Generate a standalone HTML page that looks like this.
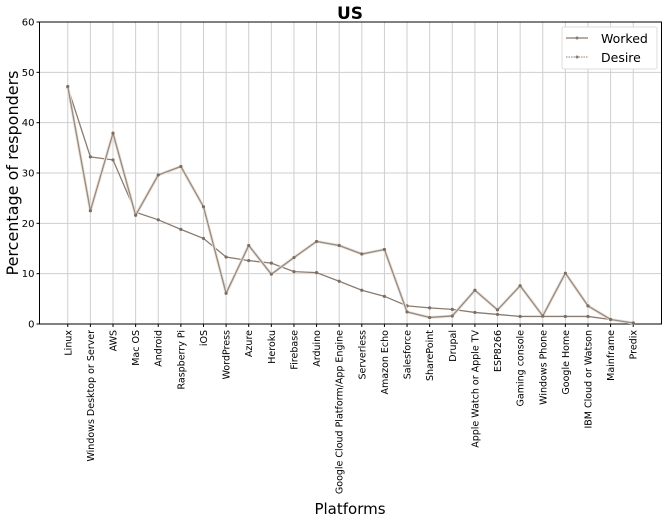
<!DOCTYPE html>
<html><head><meta charset="utf-8"><style>
body{margin:0;background:#fff;width:668px;height:520px;overflow:hidden}
svg text{font-family:"DejaVu Sans","Liberation Sans",sans-serif}
</style></head><body>
<svg id="chart" width="668" height="520" xmlns="http://www.w3.org/2000/svg">
<g id="grid"></g><g id="axes"></g><g id="series"></g>
<text x="350" y="19" text-anchor="middle" font-size="17" font-weight="bold">US</text>
<text x="350" y="514" text-anchor="middle" font-size="15">Platforms</text>
<text transform="translate(18,173) rotate(-90)" text-anchor="middle" font-size="16">Percentage of responders</text>
<g>
<rect x="562" y="27" width="95" height="42" fill="#fff" stroke="#ddd" rx="2"/>
<line x1="566" y1="38" x2="588" y2="38" stroke="#8b7b6f" stroke-width="1.2"/><circle cx="577" cy="38" r="1.5" fill="#8b7b6f"/>
<text x="601" y="43" font-size="12.5">Worked</text>
<line x1="566" y1="57" x2="588" y2="57" stroke="#a8998e" stroke-width="1.2" stroke-dasharray="1.5,1"/><circle cx="577" cy="57" r="1.5" fill="#8b7b6f"/>
<text x="601" y="62" font-size="12.5">Desire</text>
</g>
</svg>
<script>
const categories=["Linux","Windows Desktop or Server","AWS","Mac OS","Android","Raspberry Pi","iOS","WordPress","Azure","Heroku","Firebase","Arduino","Google Cloud Platform/App Engine","Serverless","Amazon Echo","Salesforce","SharePoint","Drupal","Apple Watch or Apple TV","ESP8266","Gaming console","Windows Phone","Google Home","IBM Cloud or Watson","Mainframe","Predix"];
const worked=[47,33.2,32.6,22.2,20.7,18.8,17,13.3,12.6,12.1,10.4,10.2,8.5,6.7,5.5,3.6,3.2,2.9,2.3,1.9,1.5,1.5,1.5,1.5,0.9,0.2];
const desire=[47.2,22.5,37.9,21.6,29.6,31.3,23.3,6.1,15.6,9.9,13.2,16.4,15.6,13.9,14.8,2.4,1.3,1.6,6.7,2.8,7.6,1.6,10.1,3.6,0.9,0.2];
const yTicks=[0,10,20,30,40,50,60];
const NS="http://www.w3.org/2000/svg";
const L=39.5,R=661.5,T=22,B=324;
const x=i=>L+(i+1.25)/27.5*(R-L);
const y=v=>B-v/60*(B-T);
function mk(tag,attrs,parent){const e=document.createElementNS(NS,tag);for(const k in attrs)e.setAttribute(k,attrs[k]);parent.appendChild(e);return e;}
const grid=document.getElementById('grid'),axes=document.getElementById('axes'),ser=document.getElementById('series');
yTicks.forEach(t=>{
 const g=mk('line',{x1:L,x2:R,y1:y(t),y2:y(t),stroke:'#cfcfcf','stroke-width':1},grid);
 
 
 mk('line',{x1:L-3,x2:L,y1:y(t),y2:y(t),stroke:'#000'},axes);
 const tx=mk('text',{x:L-5,y:y(t)+3.5,'text-anchor':'end','font-size':10},axes);
 tx.textContent=t;
 
 
});
categories.forEach((c,i)=>{
 const g=mk('line',{x1:x(i),x2:x(i),y1:T,y2:B,stroke:'#cfcfcf','stroke-width':1},grid);
 
 
 mk('line',{x1:x(i),x2:x(i),y1:B,y2:B+3,stroke:'#000'},axes);
 const tx=mk('text',{transform:`translate(${x(i)+3.5},${B+6}) rotate(-90)`,'text-anchor':'end','font-size':9.5},axes);
 tx.textContent=c;
 
 
});
const frame=mk('rect',{x:L,y:T,width:R-L,height:B-T,fill:'none',stroke:'#000','stroke-width':1},axes);


function draw(vals,name,dash){
 const pts=vals.map((v,i)=>x(i)+','+y(v)).join(' ');
 if(dash){
  const h=mk('polyline',{points:pts,fill:'none',stroke:'#e8e2dc','stroke-width':3},ser);
  
  
 }
 const p=mk('polyline',{points:pts,fill:'none',stroke:dash?'#9a8a7e':'#8b7b6f','stroke-width':1.3},ser);
 
 
 vals.forEach((v,i)=>{
  const c=mk('circle',{cx:x(i),cy:y(v),r:1.6,fill:'#7d6e63'},ser);
  
  
 });
}
draw(worked,'worked',false);
draw(desire,'desire',true);
</script>
</body></html>
